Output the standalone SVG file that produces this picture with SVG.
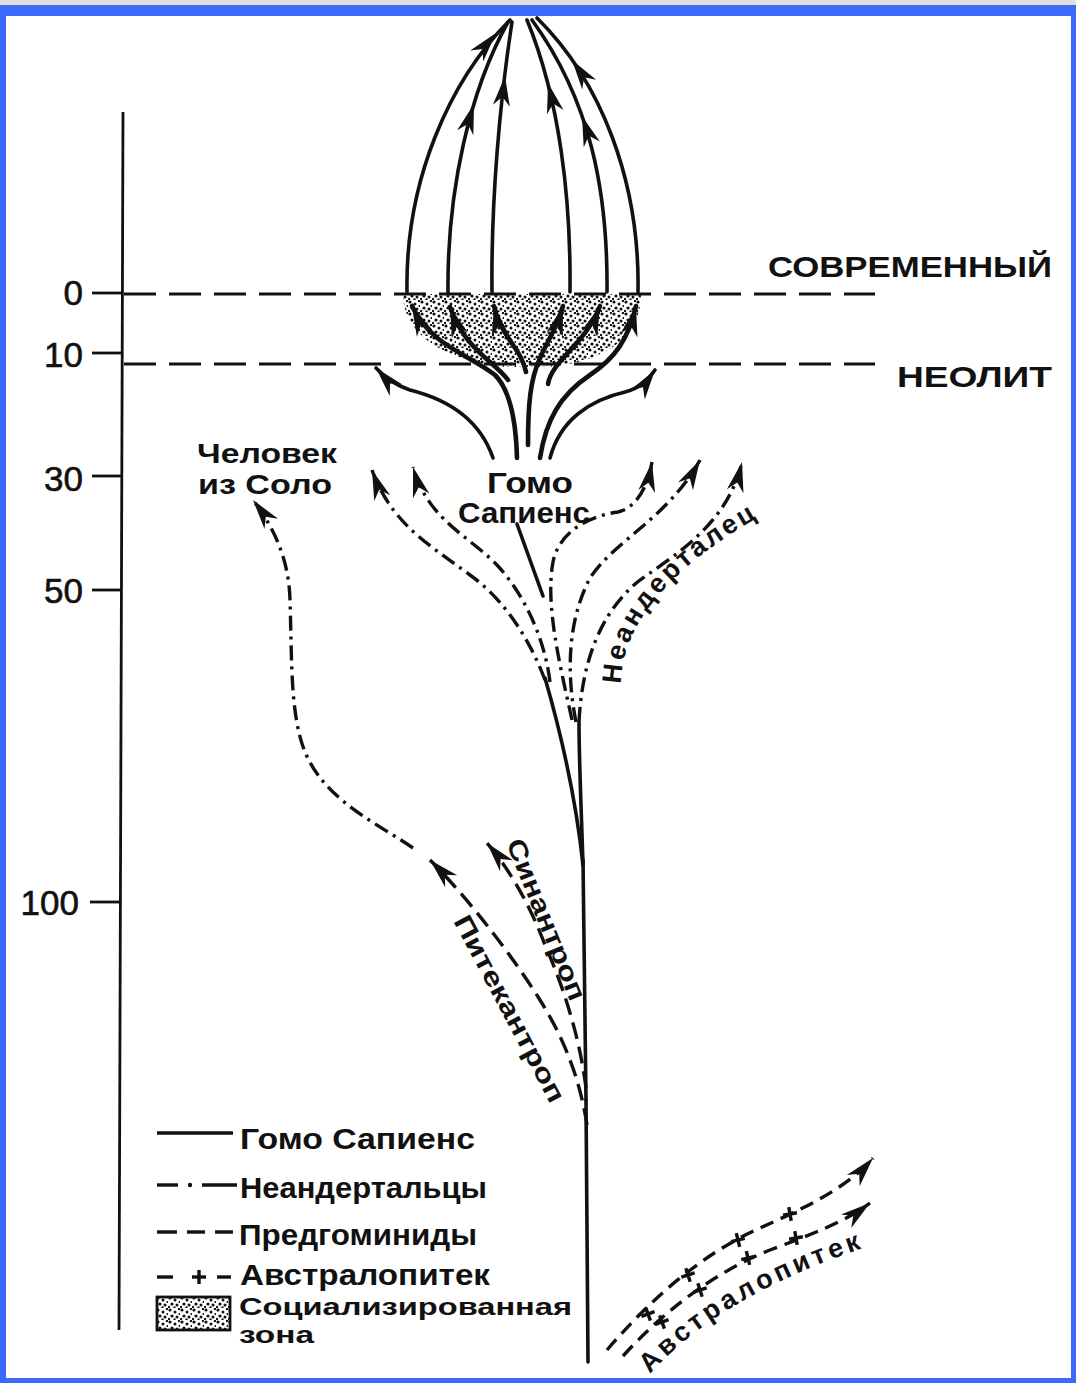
<svg xmlns="http://www.w3.org/2000/svg" xmlns:xlink="http://www.w3.org/1999/xlink" width="1076" height="1383" viewBox="0 0 1076 1383">
<style>
.t{font-family:"Liberation Sans","DejaVu Sans",Arial,sans-serif;font-weight:bold;fill:#111}
.num{font-family:"Liberation Sans","DejaVu Sans",Arial,sans-serif;font-size:35px;fill:#111;text-anchor:end;stroke:#111;stroke-width:0.6}
.s{fill:none;stroke:#111;stroke-width:3.6;stroke-linecap:round}
.sb{fill:none;stroke:#111;stroke-width:4.6;stroke-linecap:round}
.dd{fill:none;stroke:#111;stroke-width:3.4;stroke-dasharray:15 6 3 6}
.da{fill:none;stroke:#111;stroke-width:3.4;stroke-dasharray:17 8}
.hd{fill:none;stroke:#111;stroke-width:2.8;stroke-dasharray:32 13}
.au{fill:none;stroke:#111;stroke-width:3.4;stroke-dasharray:14 8}
.ar{marker-end:url(#ah)}
</style>
<defs>
<path id="ahd" d="M0,0 L-30,-8.5 L-21,0 L-30,8.5 Z" fill="#111"/>
<marker id="ah" markerUnits="userSpaceOnUse" markerWidth="34" markerHeight="22" viewBox="-31 -11 34 22" refX="0" refY="0" orient="auto">
<path d="M0,0 L-30,-8.5 L-21,0 L-30,8.5 Z" fill="#111"/>
</marker>
<g id="plus" stroke="#111" stroke-width="3.4"><line x1="-7" y1="0" x2="7" y2="0"/><line x1="0" y1="-7" x2="0" y2="7"/></g>
<pattern id="stip" width="12" height="12" patternUnits="userSpaceOnUse">
<rect width="12" height="12" fill="#fff"/>
<g fill="#111"><circle cx="2" cy="2" r="1.6"/><circle cx="7" cy="4" r="1.5"/><circle cx="11" cy="1" r="1.2"/><circle cx="4" cy="8" r="1.6"/><circle cx="9" cy="9" r="1.5"/><circle cx="1" cy="11" r="1.2"/><circle cx="6.5" cy="11.5" r="1.2"/><circle cx="11.5" cy="6" r="1.1"/></g>
</pattern>
</defs>

<g id="frame">
<rect width="1076" height="1383" fill="#3b69fb"/>
<rect width="1076" height="5" fill="#dedede"/>
<rect x="6" y="16" width="1065" height="1362" fill="#fff"/>
</g>

<g id="axis">
<line x1="123" y1="112" x2="119" y2="1330" stroke="#111" stroke-width="2.8"/>
<g stroke="#111" stroke-width="2.8">
<line x1="92" y1="293" x2="123" y2="293"/>
<line x1="92" y1="353" x2="122" y2="353"/>
<line x1="92" y1="476" x2="122" y2="476"/>
<line x1="92" y1="590" x2="122" y2="590"/>
<line x1="90" y1="902" x2="120" y2="902"/>
</g>
<text class="num" x="83" y="305">0</text>
<text class="num" x="83" y="367">10</text>
<text class="num" x="83" y="491">30</text>
<text class="num" x="83" y="603">50</text>
<text class="num" x="79" y="915">100</text>
</g>

<g id="zone">
<path d="M403 294 L641 294 C641 332 612 362 545 367 L505 367 C440 360 403 332 403 294 Z" fill="url(#stip)"/>
</g>

<g id="epochs">
<line class="hd" x1="124" y1="294" x2="875" y2="294"/>
<line class="hd" x1="124" y1="364" x2="875" y2="364"/>
<text class="t" x="768" y="277" font-size="30" textLength="284" lengthAdjust="spacingAndGlyphs">СОВРЕМЕННЫЙ</text>
<text class="t" x="897" y="387" font-size="30" textLength="155" lengthAdjust="spacingAndGlyphs">НЕОЛИТ</text>
</g>

<g id="connectors">
<!-- top fan -->
<path class="s" d="M407 292 C405 180 450 80 510 20"/>
<path class="s" d="M448 292 C447 190 470 90 508 22"/>
<path class="s" d="M492 292 C491 200 500 100 512 22"/>
<path class="s" d="M570 292 C571 200 560 100 527 20"/>
<path class="s" d="M607 292 C608 190 590 100 532 20"/>
<path class="s" d="M638 292 C640 180 600 80 537 18"/>
<use xlink:href="#ahd" href="#ahd" transform="translate(496,33) rotate(-50)"/>
<use xlink:href="#ahd" href="#ahd" transform="translate(474,104) rotate(-73)"/>
<use xlink:href="#ahd" href="#ahd" transform="translate(505,76) rotate(-83)"/>
<use xlink:href="#ahd" href="#ahd" transform="translate(548,83) rotate(-104)"/>
<use xlink:href="#ahd" href="#ahd" transform="translate(582,116) rotate(-109)"/>
<use xlink:href="#ahd" href="#ahd" transform="translate(572,60) rotate(-125)"/>
<!-- inside the zone -->
<path class="sb ar" d="M517 458 C516 420 510 390 495 375 C470 355 430 345 412 306"/>
<path class="sb ar" d="M508 380 C495 362 465 350 450 307"/>
<path class="sb ar" d="M526 372 C522 350 500 335 494 306"/>
<path class="sb ar" d="M528 445 C528 405 530 380 540 358 C548 340 556 330 563 306"/>
<path class="sb ar" d="M548 384 C552 360 585 345 600 306"/>
<path class="sb ar" d="M540 458 C546 420 560 395 590 375 C615 358 628 340 636 306"/>
<!-- outer sapiens arrows -->
<path class="s ar" d="M493 458 C480 420 450 400 410 390 C395 385 385 378 376 368"/>
<path class="s ar" d="M550 458 C560 420 590 400 625 392 C640 388 648 380 655 370"/>
<!-- main stem -->
<path class="s" stroke-width="5" d="M588 1362 L586 1100"/>
<path class="s" stroke-width="4" d="M586 1100 C585 1000 584 920 583 860"/>
<path class="s" d="M583 865 C575 790 560 730 545 678"/>
<path class="s" d="M583 865 C581 800 579 760 579 722"/>
<path class="s" d="M517 524 L543 596"/>
<!-- neanderthal -->
<path class="dd ar" d="M545 680 C530 640 505 600 470 575 C430 545 392 525 372 470"/>
<path class="dd ar" d="M550 682 C545 640 525 595 497 565 C468 535 428 520 413 467"/>
<path class="dd ar" d="M572 720 C560 665 545 605 553 562 C560 528 595 515 618 512 C635 508 647 490 652 462"/>
<path class="dd ar" d="M576 722 C566 672 568 620 590 578 C615 540 668 518 700 460"/>
<path class="dd ar" d="M579 722 C582 662 600 612 640 580 C680 552 728 522 742 462"/>
<!-- solo -->
<path class="dd ar" d="M413 848 C375 822 325 800 305 752 C290 715 292 660 290 600 C289 562 276 530 253 500"/>
<!-- sinanthropus / pithecanthropus -->
<path class="da ar" d="M586 1088 C580 1040 565 990 545 945 C530 905 510 870 487 843"/>
<path class="da ar" d="M587 1125 C580 1080 565 1040 540 1000 C515 960 470 900 430 860"/>
<!-- australopithecus -->
<path class="au ar" d="M607 1350 C650 1300 700 1255 760 1228 C800 1210 845 1190 873 1158"/>
<path class="au ar" d="M623 1356 C665 1310 715 1272 770 1250 C810 1235 845 1222 870 1203"/>
<use xlink:href="#plus" href="#plus" transform="translate(648,1314) rotate(-20)"/>
<use xlink:href="#plus" href="#plus" transform="translate(688,1275) rotate(-18)"/>
<use xlink:href="#plus" href="#plus" transform="translate(738,1240) rotate(-14)"/>
<use xlink:href="#plus" href="#plus" transform="translate(790,1214) rotate(-10)"/>
<use xlink:href="#plus" href="#plus" transform="translate(662,1322) rotate(-20)"/>
<use xlink:href="#plus" href="#plus" transform="translate(700,1290) rotate(-18)"/>
<use xlink:href="#plus" href="#plus" transform="translate(748,1258) rotate(-14)"/>
<use xlink:href="#plus" href="#plus" transform="translate(796,1238) rotate(-10)"/>
</g>

<g id="labels">
<path id="neaPath" d="M621 684 C621 620 680 560 768 512" fill="none"/>
<path id="ausPath" d="M650 1374 Q720 1295 872 1245" fill="none"/>
<text class="t" x="530" y="493" font-size="30" text-anchor="middle" textLength="86" lengthAdjust="spacingAndGlyphs">Гомо</text>
<text class="t" x="458" y="523" font-size="30" textLength="132" lengthAdjust="spacingAndGlyphs">Сапиенс</text>
<text class="t" x="197" y="463" font-size="27" textLength="140" lengthAdjust="spacingAndGlyphs">Человек</text>
<text class="t" x="198" y="494" font-size="27" textLength="134" lengthAdjust="spacingAndGlyphs">из Соло</text>
<text class="t" font-size="26" transform="translate(506,843) rotate(68)" textLength="172" lengthAdjust="spacingAndGlyphs">Синантроп</text>
<text class="t" font-size="26" transform="translate(453,921) rotate(62)" textLength="208" lengthAdjust="spacingAndGlyphs">Питекантроп</text>
<text class="t" font-size="27" letter-spacing="3"><textPath href="#neaPath" xlink:href="#neaPath">Неандерталец</textPath></text>
<text class="t" font-size="27" letter-spacing="3.8"><textPath href="#ausPath" xlink:href="#ausPath">Австралопитек</textPath></text>
</g>

<g id="legend">
<line x1="157" y1="1133" x2="233" y2="1133" stroke="#111" stroke-width="3.4"/>
<g stroke="#111" stroke-width="3.4">
<line x1="157" y1="1185" x2="178" y2="1185"/>
<line x1="202" y1="1185" x2="237" y2="1185"/>
<line x1="157" y1="1232" x2="177" y2="1232"/>
<line x1="187" y1="1232" x2="205" y2="1232"/>
<line x1="215" y1="1232" x2="233" y2="1232"/>
<line x1="157" y1="1277" x2="173" y2="1277"/>
<line x1="217" y1="1277" x2="231" y2="1277"/>
</g>
<circle cx="190" cy="1185" r="2.2" fill="#111"/>
<use xlink:href="#plus" href="#plus" transform="translate(199,1277)"/>
<rect x="157" y="1297" width="73" height="33" fill="url(#stip)" stroke="#111" stroke-width="2.8"/>
<text class="t" x="240" y="1149" font-size="29" textLength="235" lengthAdjust="spacingAndGlyphs">Гомо Сапиенс</text>
<text class="t" x="240" y="1198" font-size="29" textLength="247" lengthAdjust="spacingAndGlyphs">Неандертальцы</text>
<text class="t" x="239" y="1245" font-size="29" textLength="238" lengthAdjust="spacingAndGlyphs">Предгоминиды</text>
<text class="t" x="240" y="1285" font-size="29" textLength="250" lengthAdjust="spacingAndGlyphs">Австралопитек</text>
<text class="t" x="239" y="1315" font-size="24" textLength="333" lengthAdjust="spacingAndGlyphs">Социализированная</text>
<text class="t" x="239" y="1343" font-size="24" textLength="75" lengthAdjust="spacingAndGlyphs">зона</text>
</g>
</svg>
